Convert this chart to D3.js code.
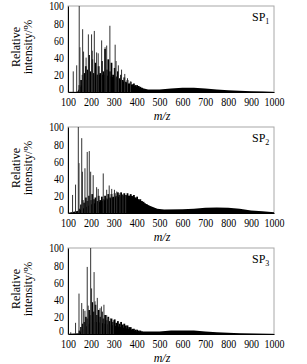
<!DOCTYPE html>
<html><head><meta charset="utf-8">
<script src="https://cdn.jsdelivr.net/npm/d3@7"></script>
<style>
body{margin:0;background:#fff}
svg{display:block}
text{font-family:"Liberation Serif","Times New Roman",serif;fill:#000}
</style>
</head><body><script>
// ---- data ----
const xTicks = [100,200,300,400,500,600,700,800,900,1000];
const yTicks = [0,20,40,60,80,100];
const sampleNames = ["1","2","3"];

// Panel SP1
const peaks1Mz  = [123,138,149,152,164,168,179,189,192,203,206,215,225,232,247,262,269,283,306,310,320,334,348,360,373];
const peaks1Int = [24, 31, 100,52, 73, 47, 40, 67, 43, 67, 48, 71, 46, 45, 60, 52, 54, 77, 55, 36, 31, 26, 21, 16, 12];
const clus1Mz  = [150,157,164,171,178,185,192,199,206,213,220,227,234,241,248,255,262,269,276,283,290,297,304,311,318,325,332,339,346,353,360,367,374,381,388,395,402,409,416,423];
const clus1Int = [8,14,20,22,30,26,43,24,38,22,34,20,30,22,36,24,50,26,38,24,34,20,28,18,24,16,20,14,17,12,14,10,12,9,10,8,8,7,6,5];
const env1Mz  = [100,140,150,170,200,230,260,300,330,360,400,450,500,550,600,650,700,750,800,850,900,950,1000];
const env1Int = [0,0,4,12,18,20,20,17,14,10,6,3,3,4,5,5,4,3,2,1.5,1,0.5,0];

// Panel SP2
const peaks2Mz  = [120,133,145,148,160,163,174,184,193,199,210,225,232,254,269,280,291,303,313,327,340,352];
const peaks2Int = [21, 33, 100,58, 87, 48, 52, 71, 72, 48, 44, 30, 28, 46, 27, 32, 28, 27, 25, 23, 22, 21];
const clus2Mz  = [150,157,164,171,178,185,192,199,206,213,220,227,234,241,248,255,262,269,276,283,290,297,304,311,318,325,332,339,346,353,360,367,374,381,388,395,402,409,416,423,430,437,444,451];
const clus2Int = [5,10,15,12,18,14,20,15,22,16,18,14,20,15,19,16,20,17,22,18,22,19,23,20,24,21,24,21,23,21,23,20,22,19,21,18,19,16,16,14,13,11,10,8];
const env2Mz  = [100,150,200,250,300,350,380,400,430,460,490,520,600,650,700,750,800,850,900,950,1000];
const env2Int = [0,3,10,14,18,20,20,17,12,8,5,4,4.5,5,6,6.5,6,5,3,2,1];

// Panel SP3
const peaks3Mz  = [112,133,148,160,167,174,184,188,199,203,214,218,228,240,246,257,269,275,285,298];
const peaks3Int = [2, 13, 47, 36, 29, 27, 78, 33, 100,53, 72, 38, 42, 30, 32, 34, 22, 18, 18, 16];
const clus3Mz  = [150,157,164,171,178,185,192,199,206,213,220,227,234,241,248,255,262,269,276,283,290,297,304,311,318,325,332,339,346,353,360,367,374,381,388,395,402,409,416,423];
const clus3Int = [4,8,12,14,20,18,28,22,37,26,34,22,28,20,26,18,22,16,20,15,18,14,17,13,15,12,14,11,12,10,10,8,8,6,6,5,5,4,4,3];
const env3Mz  = [100,150,170,200,230,260,300,350,400,450,500,550,600,650,700,750,800,850,900,950,1000];
const env3Int = [0,1,6,14,14,12,10,7,3,3,3,4,4,4,3,2,1.5,1,0.5,0.3,0];

const panels = [
  {pMz:peaks1Mz,pInt:peaks1Int,cMz:clus1Mz,cInt:clus1Int,eMz:env1Mz,eInt:env1Int},
  {pMz:peaks2Mz,pInt:peaks2Int,cMz:clus2Mz,cInt:clus2Int,eMz:env2Mz,eInt:env2Int},
  {pMz:peaks3Mz,pInt:peaks3Int,cMz:clus3Mz,cInt:clus3Int,eMz:env3Mz,eInt:env3Int}
];

// ---- layout ----
const W=307,H=364;
const left=68,right=274,ph=86;
const tops=[6,127,248];
const svg=d3.select("body").append("svg").attr("width",W).attr("height",H);
const x=d3.scaleLinear().domain([100,1000]).range([left,right]);

panels.forEach((p,i)=>{
  const top=tops[i], bot=top+ph;
  const y=d3.scaleLinear().domain([0,100]).range([bot,top]);
  const g=svg.append("g");
  g.append("rect").attr("x",left).attr("y",top).attr("width",right-left).attr("height",ph)
    .attr("fill","none").attr("stroke","#a8a8a8").attr("stroke-width",1);
  const area=d3.area().x(d=>x(d[0])).y0(y(0)).y1(d=>y(d[1]));
  g.append("path").datum(d3.zip(p.eMz,p.eInt)).attr("d",area).attr("fill","#000");
  g.append("g").selectAll("line").data(d3.zip(p.cMz,p.cInt)).join("line")
    .attr("x1",d=>x(d[0])).attr("x2",d=>x(d[0])).attr("y1",y(0)).attr("y2",d=>y(d[1]))
    .attr("stroke","#000").attr("stroke-width",1.8);
  g.append("g").selectAll("line").data(d3.zip(p.pMz,p.pInt)).join("line")
    .attr("x1",d=>x(d[0])).attr("x2",d=>x(d[0])).attr("y1",y(0)).attr("y2",d=>y(d[1]))
    .attr("stroke","#333").attr("stroke-width",1);

  const xa=g.append("g").attr("transform",`translate(0,${bot})`)
    .call(d3.axisBottom(x).tickValues(xTicks).tickSize(0).tickPadding(5.5).tickFormat(d3.format("d")));
  const ya=g.append("g").attr("transform",`translate(${left},0)`)
    .call(d3.axisLeft(y).tickValues(yTicks).tickSize(0).tickPadding(5).tickFormat(d3.format("d")));
  xa.select(".domain").attr("stroke","#000");
  ya.select(".domain").attr("stroke","#000");
  xa.selectAll("text").attr("font-size",12.5).attr("font-family",'"Liberation Serif",serif')
    .attr("transform","scale(0.8,1)");
  ya.selectAll("text").attr("font-size",12).attr("font-family",'"Liberation Serif",serif')
    .attr("transform","scale(0.82,1)");
  ya.selectAll(".tick").filter(d=>d===0).select("text").attr("dy","0.02em");

  const mid=(top+bot)/2-2;
  g.append("text").attr("transform",`translate(19.5,${mid}) rotate(-90)`)
    .attr("text-anchor","middle").attr("font-size",12).text("Relative");
  g.append("text").attr("transform",`translate(31.5,${mid}) rotate(-90)`)
    .attr("text-anchor","middle").attr("font-size",12).text("intensity/%");

  g.append("text").attr("x",162).attr("y",bot+28).attr("text-anchor","middle")
    .attr("font-size",12).attr("font-style","italic").text("m/z");

  const sp=g.append("text").attr("x",252).attr("y",top+15).attr("font-size",12);
  sp.append("tspan").text("SP");
  sp.append("tspan").attr("dy",3).attr("font-size",8).text(sampleNames[i]);
});
</script></body></html>
